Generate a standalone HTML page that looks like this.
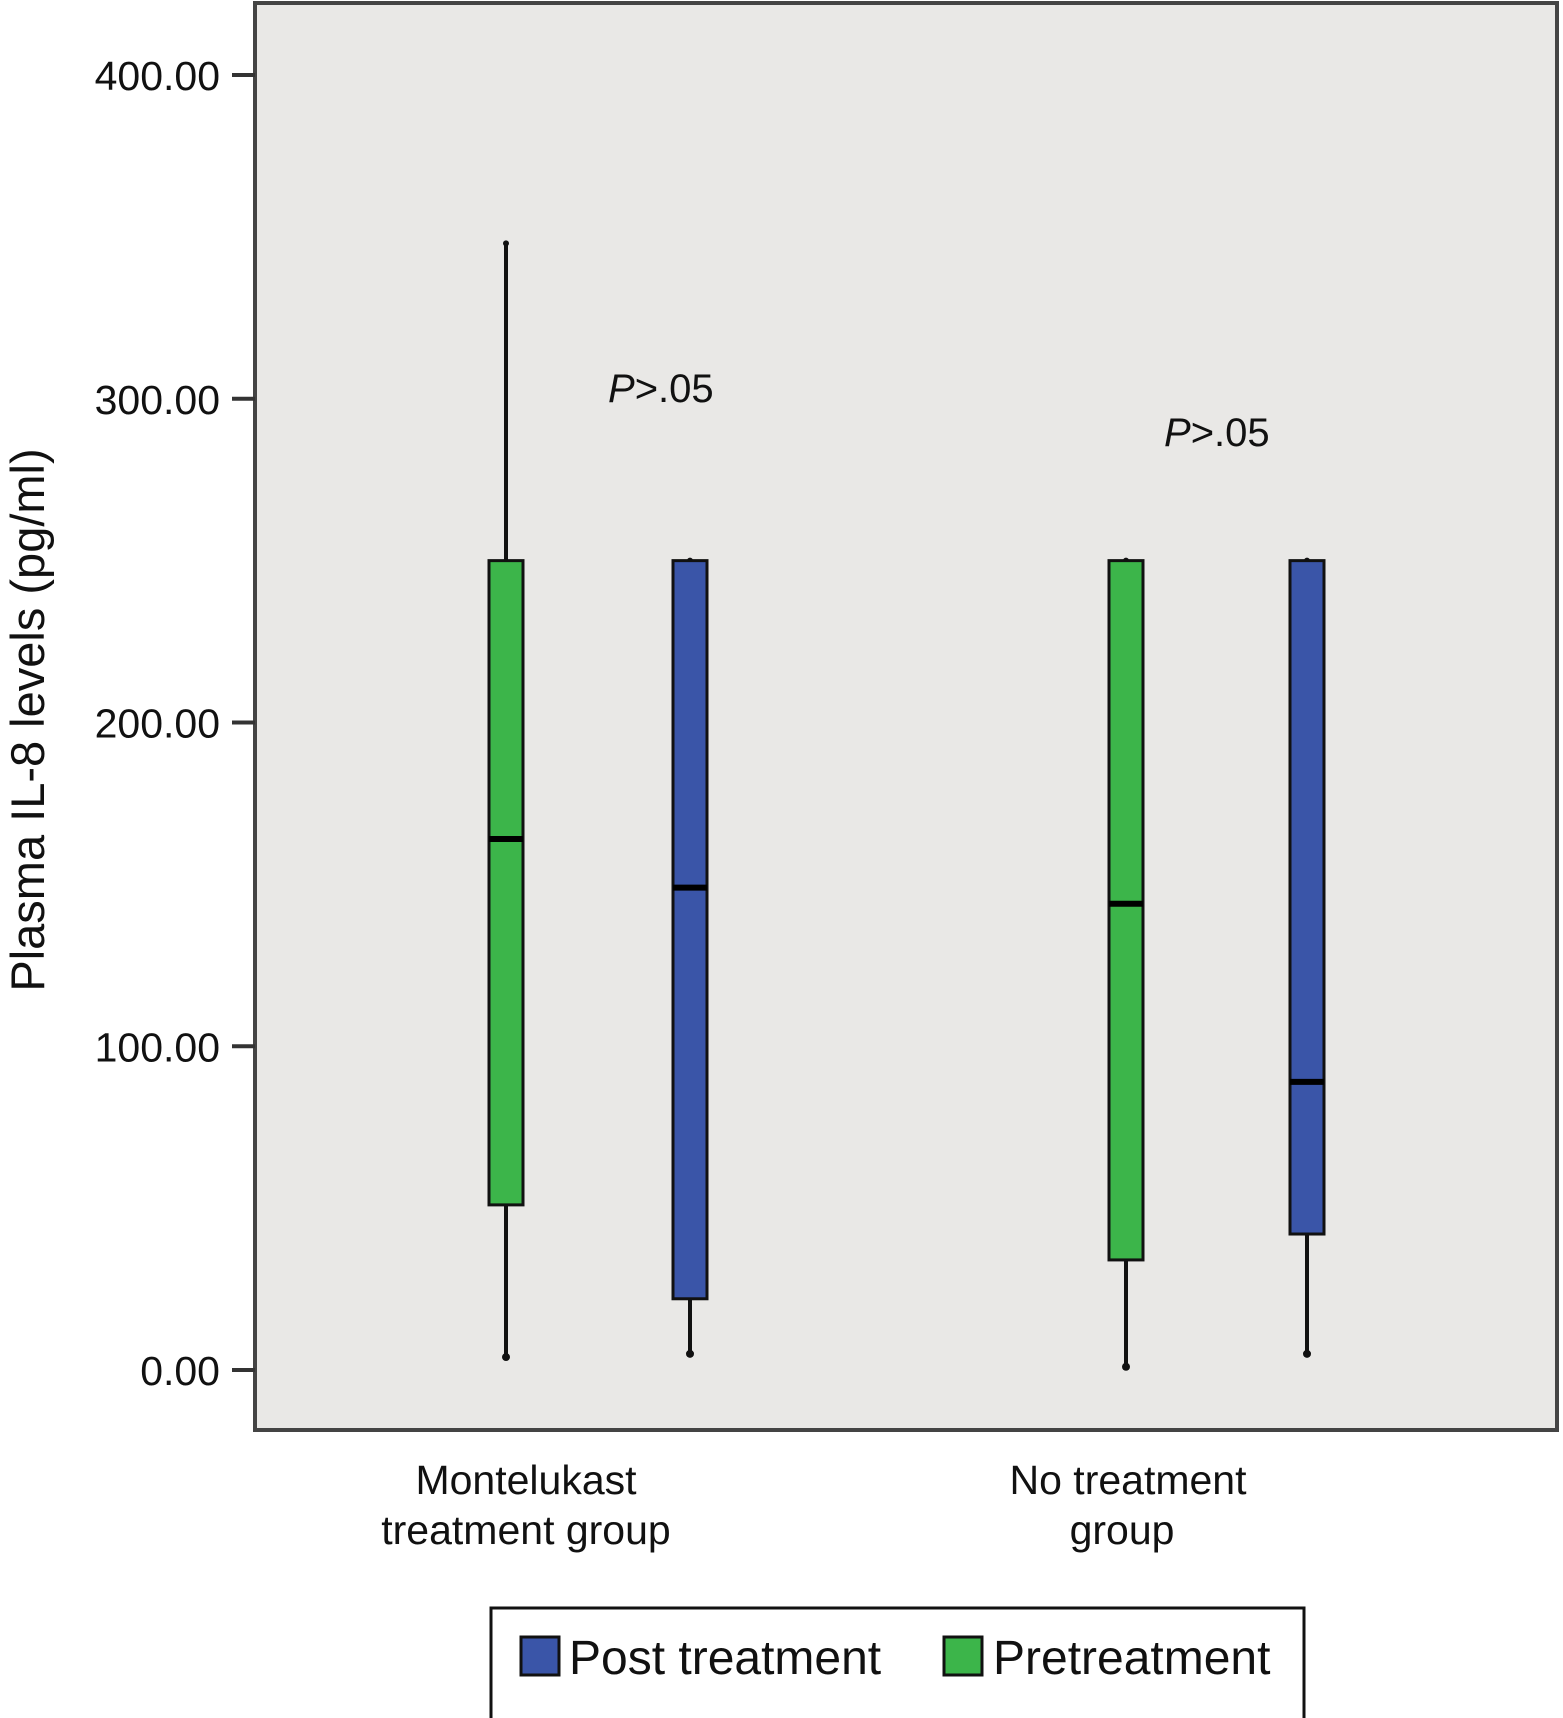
<!DOCTYPE html>
<html><head><meta charset="utf-8"><style>
html,body{margin:0;padding:0;background:#fff;}
svg{display:block;font-family:"Liberation Sans",sans-serif;}
</style></head><body>
<svg id="chart" width="1563" height="1718" viewBox="0 0 1563 1718" xmlns="http://www.w3.org/2000/svg">
<rect x="255" y="3" width="1302" height="1427" fill="#e9e8e6" stroke="#444" stroke-width="4"/>
<g id="yaxis"></g>
<g id="boxes"></g>
<text x="608" y="402" font-size="40" fill="#111"><tspan font-style="italic">P</tspan>&gt;.05</text>
<text x="1164" y="446" font-size="40" fill="#111"><tspan font-style="italic">P</tspan>&gt;.05</text>
<text x="526" y="1494" font-size="41" text-anchor="middle" fill="#111"><tspan x="526">Montelukast</tspan><tspan x="526" dy="50">treatment group</tspan></text>
<text x="1128" y="1494" font-size="41" text-anchor="middle" fill="#111"><tspan x="1128">No treatment</tspan><tspan x="1122" dy="50">group</tspan></text>
<text transform="translate(44,720) rotate(-90)" font-size="47" text-anchor="middle" fill="#111">Plasma IL-8 levels (pg/ml)</text>
<g>
<rect x="491" y="1608" width="813" height="112" fill="#fff" stroke="#111" stroke-width="3"/>
<rect x="521" y="1637" width="38" height="38" fill="#3a55a8" stroke="#111" stroke-width="3"/>
<text x="569" y="1674" font-size="48" fill="#111">Post treatment</text>
<rect x="944" y="1637" width="38" height="38" fill="#3cb54a" stroke="#111" stroke-width="3"/>
<text x="993" y="1674" font-size="48" fill="#111">Pretreatment</text>
</g>
</svg>
<script>
const groups = ["Montelukast-pre","Montelukast-post","NoTreatment-pre","NoTreatment-post"];
const mins = [4, 5, 1, 5];
const q1s = [51, 22, 34, 42];
const medians = [164, 149, 144, 89];
const q3s = [250, 250, 250, 250];
const maxs = [348, 250, 250, 250];
const yTicks = [0, 100, 200, 300, 400];
const yTickLabels = ["0.00","100.00","200.00","300.00","400.00"];
const NS = "http://www.w3.org/2000/svg";
function y(v){ return 1370 - v * 3.2375; }
const centers = [506, 690, 1126, 1307];
const colors = ["#3cb54a","#3a55a8","#3cb54a","#3a55a8"];
function mk(tag, attrs, parent){ const e=document.createElementNS(NS,tag); for(const k in attrs) e.setAttribute(k,attrs[k]); parent.appendChild(e); return e; }
const ya = document.getElementById('yaxis');
yTicks.forEach((t,i)=>{
  const l = mk('line',{x1:232,x2:255,y1:y(t),y2:y(t),stroke:'#333','stroke-width':4},ya);
  
  
  const tx = mk('text',{x:220,y:y(t)+15,'font-size':41,'text-anchor':'end',fill:'#111'},ya);
  tx.textContent = yTickLabels[i];
  
  
});
const bx = document.getElementById('boxes');
groups.forEach((g,i)=>{
  const c = centers[i], w = 34;
  const wl = mk('line',{x1:c,x2:c,y1:y(maxs[i]),y2:y(mins[i]),stroke:'#111','stroke-width':4},bx);
  
  
  mk('circle',{cx:c,cy:y(mins[i]),r:4,fill:'#111'},bx);
  mk('circle',{cx:c,cy:y(maxs[i]),r:3,fill:'#111'},bx);
  const r = mk('rect',{x:c-w/2,y:y(q3s[i]),width:w,height:y(q1s[i])-y(q3s[i]),fill:colors[i],stroke:'#111','stroke-width':3},bx);
  
  
  const m = mk('line',{x1:c-w/2,x2:c+w/2,y1:y(medians[i]),y2:y(medians[i]),stroke:'#000','stroke-width':6},bx);
  
  
});
</script>
</body></html>
